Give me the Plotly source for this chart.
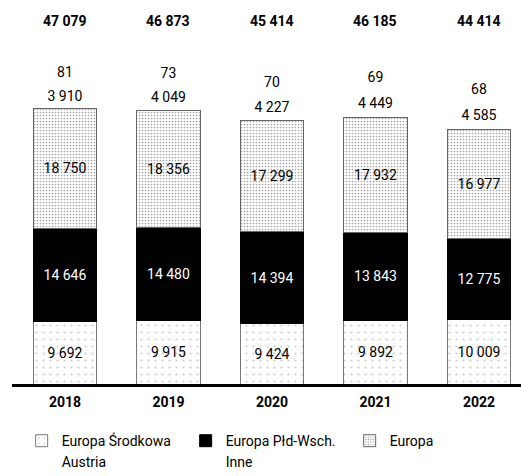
import plotly.graph_objects as go

years = ["2018", "2019", "2020", "2021", "2022"]
europa_srodkowa = [9692, 9915, 9424, 9892, 10009]
europa_pld_wsch = [14646, 14480, 14394, 13843, 12775]
europa = [18750, 18356, 17299, 17932, 16977]
austria = [3910, 4049, 4227, 4449, 4585]
inne = [81, 73, 70, 69, 68]
series_names = ["Europa Środkowa", "Europa Płd-Wsch.", "Europa", "Austria", "Inne"]

totals = [sum(v) for v in zip(europa_srodkowa, europa_pld_wsch, europa, austria, inne)]


def fmt(v):
    return f"{v:,}".replace(",", " ")


FONT = "Roboto"
BAR_W = 0.61

fig = go.Figure()

fig.add_trace(go.Bar(
    x=years, y=europa_srodkowa, name=series_names[0], width=BAR_W,
    text=[fmt(v) for v in europa_srodkowa], textposition="inside",
    insidetextanchor="middle", textangle=0,
    insidetextfont=dict(color="black", size=14, family=FONT),
    marker=dict(color="white", line=dict(color="#777", width=1),
                pattern=dict(shape=".", fgcolor="#999", bgcolor="white", size=7, solidity=0.08)),
))
fig.add_trace(go.Bar(
    x=years, y=europa_pld_wsch, name=series_names[1], width=BAR_W,
    text=[fmt(v) for v in europa_pld_wsch], textposition="inside",
    insidetextanchor="middle", textangle=0,
    insidetextfont=dict(color="white", size=14, family=FONT),
    marker=dict(color="black", line=dict(color="black", width=1)),
))
fig.add_trace(go.Bar(
    x=years, y=europa, name=series_names[2], width=BAR_W,
    text=[fmt(v) for v in europa], textposition="inside",
    insidetextanchor="middle", textangle=0,
    insidetextfont=dict(color="black", size=14, family=FONT),
    marker=dict(color="white", line=dict(color="#666", width=1),
                pattern=dict(shape=".", fgcolor="#444", bgcolor="white", size=3, solidity=0.25)),
))
fig.add_trace(go.Bar(
    x=years, y=austria, name=series_names[3], width=BAR_W,
    text=[fmt(v) for v in austria], textposition="inside",
    insidetextanchor="middle", textangle=0,
    insidetextfont=dict(color="black", size=14, family=FONT),
    marker=dict(color="rgba(0,0,0,0)", line=dict(width=0)),
))
fig.add_trace(go.Bar(
    x=years, y=inne, name=series_names[4], width=BAR_W,
    text=[fmt(v) for v in inne], textposition="outside",
    textangle=0,
    outsidetextfont=dict(color="black", size=14, family=FONT),
    marker=dict(color="rgba(0,0,0,0)", line=dict(width=0)),
    cliponaxis=False,
))

for i, t in enumerate(totals):
    fig.add_annotation(x=i, y=1 - 21 / 384, xref="x", yref="paper",
                       text=f"<b>{fmt(t)}</b>", showarrow=False,
                       font=dict(size=14, color="black", family=FONT),
                       xanchor="center", yanchor="middle")

fig.update_layout(
    width=521, height=476,
    margin=dict(l=12, r=0, t=0, b=92, autoexpand=False),
    paper_bgcolor="white", plot_bgcolor="white",
    barmode="stack",
    bargap=0.4,
    hovermode=False,
    uniformtext=dict(minsize=14, mode="show"),
    font=dict(family=FONT, size=14, color="black"),
    xaxis=dict(type="category", range=[-0.512, 4.406], showgrid=False, zeroline=False,
               showline=True, linecolor="black", linewidth=3,
               tickfont=dict(size=14, family=FONT, color="black", weight="bold"),
               ticks="", ticklabelstandoff=3),
    yaxis=dict(range=[0, 60000], visible=False, showgrid=False, zeroline=False),
    legend=dict(orientation="h", x=0.019, y=-0.107, xanchor="left", yanchor="top",
                traceorder="normal",
                entrywidth=119, entrywidthmode="pixels",
                font=dict(size=14, family=FONT, color="black"),
                bgcolor="rgba(0,0,0,0)"),
    showlegend=True,
)

fig.write_html("out.html")
